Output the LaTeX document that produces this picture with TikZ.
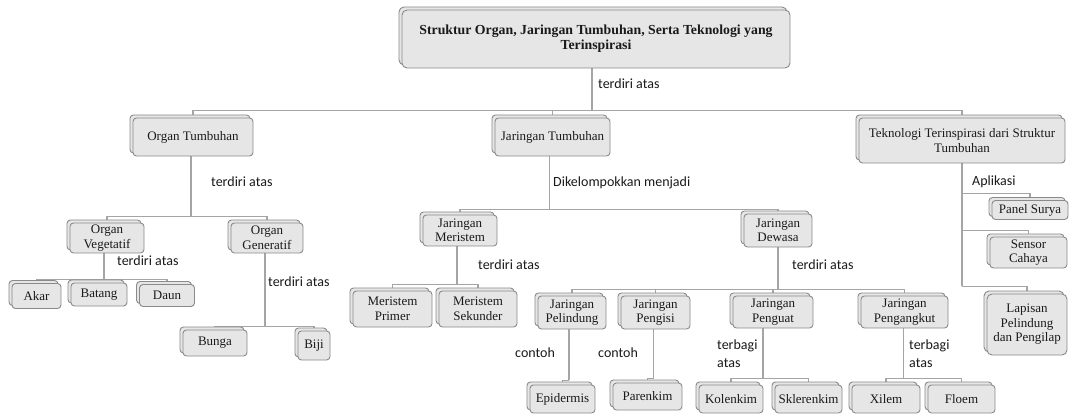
\documentclass[tikz,border=0pt]{standalone}
\usepackage{fontspec}
\setmainfont{Liberation Serif}
\newfontfamily\lblfont{Carlito}
\usetikzlibrary{backgrounds}
\definecolor{boxfill}{HTML}{E6E6E6}
\definecolor{boxdraw}{HTML}{8A8A8A}
\definecolor{connc}{HTML}{A5A5A5}
\definecolor{txt}{HTML}{1A1A1A}
\tikzset{
  box/.style={draw=boxdraw, fill=boxfill, line width=0.9pt, rounded corners=3.5pt,
    inner sep=0pt, align=center, text=txt, font=\fontsize{13}{14.5}\selectfont,
    preaction={draw=boxdraw, fill=boxfill, line width=0.9pt,
      transform canvas={shift={(-3,-3)}}}},
  conn/.style={draw=connc, line width=1.3pt},
  lbl/.style={anchor=west, inner sep=0pt, text=txt,
    font=\lblfont\fontsize{14}{18}\selectfont, align=left},
}
\begin{document}
\begin{tikzpicture}[x=1pt,y=-1pt]
\useasboundingbox (0,0) rectangle (1071,414);
% boxes
\node[box, minimum width=388, minimum height=58, rounded corners=5pt,
  font=\fontsize{13.8}{15}\selectfont\bfseries] (root) at (596,39)
  {Struktur Organ, Jaringan Tumbuhan, Serta Teknologi yang\\Terinspirasi};
\node[box, minimum width=120, minimum height=38] (organ) at (193,137) {Organ Tumbuhan};
\node[box, minimum width=115, minimum height=38] (jar) at (552.5,137) {Jaringan Tumbuhan};
\node[box, minimum width=206, minimum height=45] (tek) at (962,140.5)
  {Teknologi Terinspirasi dari Struktur\\Tumbuhan};
\node[box, minimum width=74, minimum height=30] (veg) at (107,238) {Organ\\Vegetatif};
\node[box, minimum width=72, minimum height=30] (gen) at (267,238) {Organ\\Generatif};
\node[box, minimum width=49, minimum height=25] (akar) at (36.5,296) {Akar};
\node[box, minimum width=56, minimum height=23] (batang) at (99,294.5) {Batang};
\node[box, minimum width=55, minimum height=22] (daun) at (167,295.5) {Daun};
\node[box, minimum width=64, minimum height=26] (bunga) at (215,343) {Bunga};
\node[box, minimum width=32, minimum height=29] (biji) at (314,345.5) {Biji};
\node[box, minimum width=74, minimum height=31] (mer) at (460,230.5) {Jaringan\\Meristem};
\node[box, minimum width=79, minimum height=36] (prim) at (392.5,309) {Meristem\\Primer};
\node[box, minimum width=78, minimum height=36] (sek) at (478,309) {Meristem\\Sekunder};
\node[box, minimum width=68, minimum height=33] (dew) at (778,230.5) {Jaringan\\Dewasa};
\node[box, minimum width=68, minimum height=33] (pel) at (572,312.5) {Jaringan\\Pelindung};
\node[box, minimum width=69, minimum height=33] (pengisi) at (655.5,312.5) {Jaringan\\Pengisi};
\node[box, minimum width=80, minimum height=32] (penguat) at (773,312) {Jaringan\\Penguat};
\node[box, minimum width=87, minimum height=32] (angkut) at (904.5,312) {Jaringan\\Pengangkut};
\node[box, minimum width=65, minimum height=28] (epi) at (562.5,399) {Epidermis};
\node[box, minimum width=69, minimum height=27] (par) at (647.5,396.5) {Parenkim};
\node[box, minimum width=64, minimum height=28] (kol) at (731,399) {Kolenkim};
\node[box, minimum width=67, minimum height=28] (skl) at (808.5,399) {Sklerenkim};
\node[box, minimum width=68, minimum height=28] (xil) at (886,399) {Xilem};
\node[box, minimum width=67, minimum height=28] (flo) at (961.5,399) {Floem};
\node[box, minimum width=76, minimum height=19] (panel) at (1030,210) {Panel Surya};
\node[box, minimum width=77, minimum height=31] (sensor) at (1028.5,252.5) {Sensor\\Cahaya};
\node[box, minimum width=80, minimum height=61, rounded corners=5pt] (lap) at (1027,324.5) {Lapisan\\Pelindung\\dan Pengilap};
% connectors
\begin{scope}[on background layer]
\fill[white] (0,0) rectangle (1071,414);
\draw[conn] ([xshift=-4pt]root.south) -- ++(0,42) coordinate (b0);
\draw[conn] (b0) -| (organ.north);
\draw[conn] (b0) -| (jar.north);
\draw[conn] (b0) -| (tek.north);
\draw[conn] ([xshift=-2pt]organ.south) -- ++(0,60) coordinate (b1);
\draw[conn] (b1) -| (veg.north);
\draw[conn] (b1) -| (gen.north);
\draw[conn] ([xshift=-3pt]jar.south) -- ++(0,53) coordinate (b2);
\draw[conn] (b2) -| (mer.north);
\draw[conn] (b2) -| (dew.north);
\draw[conn] ([xshift=-3pt]veg.south) -- ++(0,26) coordinate (b3);
\draw[conn] (b3) -| (akar.north);
\draw[conn] (b3) -| (batang.north);
\draw[conn] (b3) -| (daun.north);
\draw[conn] ([xshift=-2pt]gen.south) -- ++(0,73) coordinate (b4);
\draw[conn] (b4) -| (bunga.north);
\draw[conn] (b4) -| (biji.north);
\draw[conn] ([xshift=-3pt]mer.south) -- ++(0,38) coordinate (b5);
\draw[conn] (b5) -| (prim.north);
\draw[conn] (b5) -| (sek.north);
\draw[conn] (dew.south) -- ++(0,42) coordinate (b6);
\draw[conn] (b6) -| (pel.north);
\draw[conn] (b6) -| (pengisi.north);
\draw[conn] (b6) -| (penguat.north);
\draw[conn] (b6) -| (angkut.north);
\draw[conn] ([xshift=-3pt]pel.south) -- ++(0,51) coordinate (b7);
\draw[conn] (b7) -| (epi.north);
\draw[conn] ([xshift=-2pt]pengisi.south) -- ++(0,49) coordinate (b8);
\draw[conn] (b8) -| (par.north);
\draw[conn] ([xshift=-10pt]penguat.south) -- ++(0,50) coordinate (b9);
\draw[conn] (b9) -| (kol.north);
\draw[conn] (b9) -| (skl.north);
\draw[conn] ([xshift=-1pt]angkut.south) -- ++(0,50) coordinate (b10);
\draw[conn] (b10) -| (xil.north);
\draw[conn] (b10) -| (flo.north);
\draw[conn] (tek.south) -- ++(0,123) coordinate (t3);
\draw[conn] (tek.south) ++(0,30) coordinate (t1) -| (panel.north);
\draw[conn] (tek.south) ++(0,67) coordinate (t2) -| (sensor.north);
\draw[conn] (t3) -| (lap.north);
\end{scope}
% connector labels
\node[lbl] (l0) at (598,84) {terdiri atas};
\node[lbl] (l1) at (211,182) {terdiri atas};
\node[lbl] (l2) at (553,183) {Dikelompokkan menjadi};
\node[lbl] (l3) at (972,182) {Aplikasi};
\node[lbl] (l4) at (117,261) {terdiri atas};
\node[lbl] (l5) at (268,282) {terdiri atas};
\node[lbl] (l6) at (478,265) {terdiri atas};
\node[lbl] (l7) at (792,265) {terdiri atas};
\node[lbl] (l8) at (515,353) {contoh};
\node[lbl] (l9) at (598,353) {contoh};
\node[lbl] (l10) at (717,354) {terbagi\\atas};
\node[lbl] (l11) at (909,354) {terbagi\\atas};
\end{tikzpicture}
\end{document}
